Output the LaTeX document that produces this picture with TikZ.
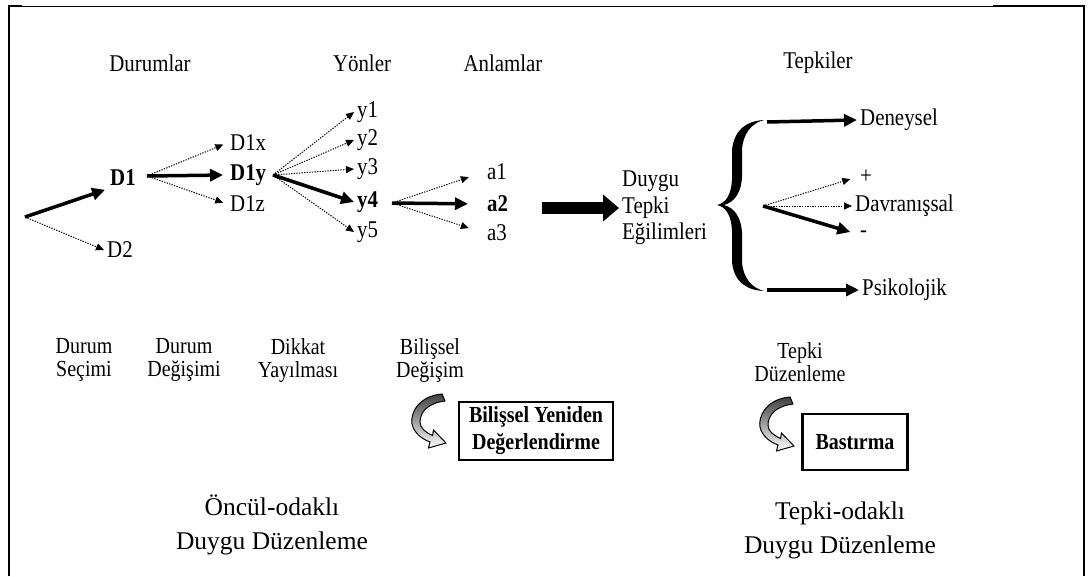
\documentclass[tikz,border=0pt]{standalone}
\usepackage{fontspec}
\setmainfont{Liberation Serif}[FakeStretch=0.87]
\newfontfamily\plainfont{Liberation Serif}
\usetikzlibrary{arrows.meta}
\tikzset{
  lbl/.style={inner sep=3pt, font=\fontsize{24}{26}\selectfont},
  blbl/.style={inner sep=3pt, font=\fontsize{24}{26}\selectfont\bfseries},
  two/.style={inner sep=2pt, align=center, font=\fontsize{23}{23}\selectfont},
  foot/.style={inner sep=2pt, align=center, font=\plainfont\fontsize{25.5}{34}\selectfont},
  boxx/.style={draw, line width=2.5pt, align=center, inner sep=2pt, font=\fontsize{23}{27}\selectfont\bfseries},
  thk/.style={line width=3.5pt, -{Triangle[length=13pt,width=12pt]}},
  dott/.style={line width=1pt, dash pattern=on 1.3pt off 1.3pt, -{Triangle[length=8pt,width=7pt]}},
  bigarrow/.style={line width=12pt, -{Triangle[length=16pt,width=26pt]}},
  frame/.style={line width=2.5pt},
  curvarrow/.pic={
    \path[draw=black, line width=1pt, top color=black!75, middle color=gray!45, bottom color=white]
      (29,-28) .. controls (5,-26) and (-3,-8) .. (-1,2)
      .. controls (1,11) and (9,17) .. (17,20)
      -- (15.5,26) -- (33,21) -- (20.5,8) -- (19.5,13.5)
      .. controls (12,10) and (7,6) .. (7,0)
      .. controls (7,-10) and (15,-19) .. (32,-21) -- cycle;
  }
}
\begin{document}
\begin{tikzpicture}[x=1pt,y=-1pt]
\useasboundingbox (0,0) rectangle (1089,576);
% frame
\draw[frame] (9,576) -- (9,6) -- (22,6);
\draw[line width=1pt] (22,6) -- (993,6);
\draw[frame] (993,6) -- (1084,6) -- (1084,576);

% column titles
\node[lbl] (tDur) at (150,63) {Durumlar};
\node[lbl] (tYon) at (362,63) {Yönler};
\node[lbl] (tAnl) at (503,63) {Anlamlar};
\node[lbl] (tTep) at (818,63) {Tepkiler};

% situations
\coordinate (s0) at (25,217);
\node[blbl, anchor=west] (D1) at (107,178) {D1};
\node[lbl, anchor=west] (D2) at (104,250) {D2};
\draw[thk, shorten >=2pt] (s0) -- (D1.south west);
\draw[dott] (s0) -- (D2.west);

\coordinate (f1) at (147,176);
\node[lbl, anchor=west] (D1x) at (227,143) {D1x};
\node[blbl, anchor=west] (D1y) at (227,175) {D1y};
\node[lbl, anchor=west] (D1z) at (227,204) {D1z};
\draw[dott, shorten >=4pt] (f1) -- (D1x.west);
\draw[thk, shorten >=4pt] (f1) -- (D1y.west);
\draw[dott, shorten >=4pt] (f1) -- (D1z.west);

\coordinate (f2) at (273,175);
\node[lbl, anchor=west] (y1) at (354,112) {y1};
\node[lbl, anchor=west] (y2) at (354,140) {y2};
\node[lbl, anchor=west] (y3) at (354,169) {y3};
\node[blbl, anchor=west] (y4) at (354,202) {y4};
\node[lbl, anchor=west] (y5) at (354,232) {y5};
\draw[dott] (f2) -- (y1.west);
\draw[dott] (f2) -- (y2.west);
\draw[dott] (f2) -- (y3.west);
\draw[thk] (f2) -- (y4.west);
\draw[dott] (f2) -- (y5.west);

\coordinate (f3) at (392,203);
\node[lbl, anchor=west] (a1) at (484,172) {a1};
\node[blbl, anchor=west] (a2) at (484,204) {a2};
\node[lbl, anchor=west] (a3) at (484,233) {a3};
\draw[dott, shorten >=16pt] (f3) -- (a1.west);
\draw[thk, shorten >=16pt] (f3) -- (a2.west);
\draw[dott, shorten >=16pt] (f3) -- (a3.west);

\coordinate (g0) at (542,208);
\node[lbl, anchor=west, align=left, font=\fontsize{24}{26.5}\selectfont] (DTE) at (619,208) {Duygu\\Tepki\\Eğilimleri};
\draw[bigarrow] (g0) -- (DTE.west);

% brace
\fill (764,120) .. controls (745,121) and (734,131) .. (732,150) -- (732,180)
  .. controls (731,195) and (726,203) .. (717,205)
  .. controls (726,207) and (731,215) .. (732,230) -- (732,262)
  .. controls (734,281) and (745,290) .. (764,291)
  .. controls (752,288) and (743,278) .. (742,262) -- (742,232)
  .. controls (741,218) and (735,208) .. (724,205)
  .. controls (735,202) and (741,192) .. (742,178) -- (742,150)
  .. controls (743,133) and (752,123) .. (764,120) -- cycle;

% responses
\coordinate (b1) at (767,122);
\coordinate (b2) at (767,290);
\coordinate (f4) at (763,206);
\node[lbl, anchor=west] (Den) at (857,120) {Deneysel};
\node[lbl, anchor=west] (plus) at (857,177) {+};
\node[lbl, anchor=west] (Dav) at (852,206) {Davranışsal};
\node[lbl, anchor=west] (minus) at (857,234) {-};
\node[lbl, anchor=west] (Psi) at (859,290) {Psikolojik};
\draw[thk] (b1) -- (Den.west);
\draw[dott, shorten >=7pt] (f4) -- (plus.west);
\draw[dott] (f4) -- (Dav.west);
\draw[thk, shorten >=7pt] (f4) -- (minus.west);
\draw[thk] (b2) -- (Psi.west);

% strategies
\node[two] (bSec) at (84,360) {Durum\\Seçimi};
\node[two] (bDeg) at (184,360) {Durum\\Değişimi};
\node[two] (bDik) at (298,360) {Dikkat\\Yayılması};
\node[two] (bBil) at (430,360) {Bilişsel\\Değişim};
\node[two] (bTep) at (800,362) {Tepki\\Düzenleme};

\node[boxx, minimum width=154pt, minimum height=58pt] (box1) at (536,431) {Bilişsel Yeniden\\Değerlendirme};
\node[boxx, minimum width=105pt, minimum height=56pt] (box2) at (855,442) {Bastırma};
\pic at (413,422) {curvarrow};
\pic at (761,425) {curvarrow};

\node[foot] (fo1) at (272,525) {Öncül-odaklı\\Duygu Düzenleme};
\node[foot] (fo2) at (840,530) {Tepki-odaklı\\Duygu Düzenleme};
\end{tikzpicture}
\end{document}
